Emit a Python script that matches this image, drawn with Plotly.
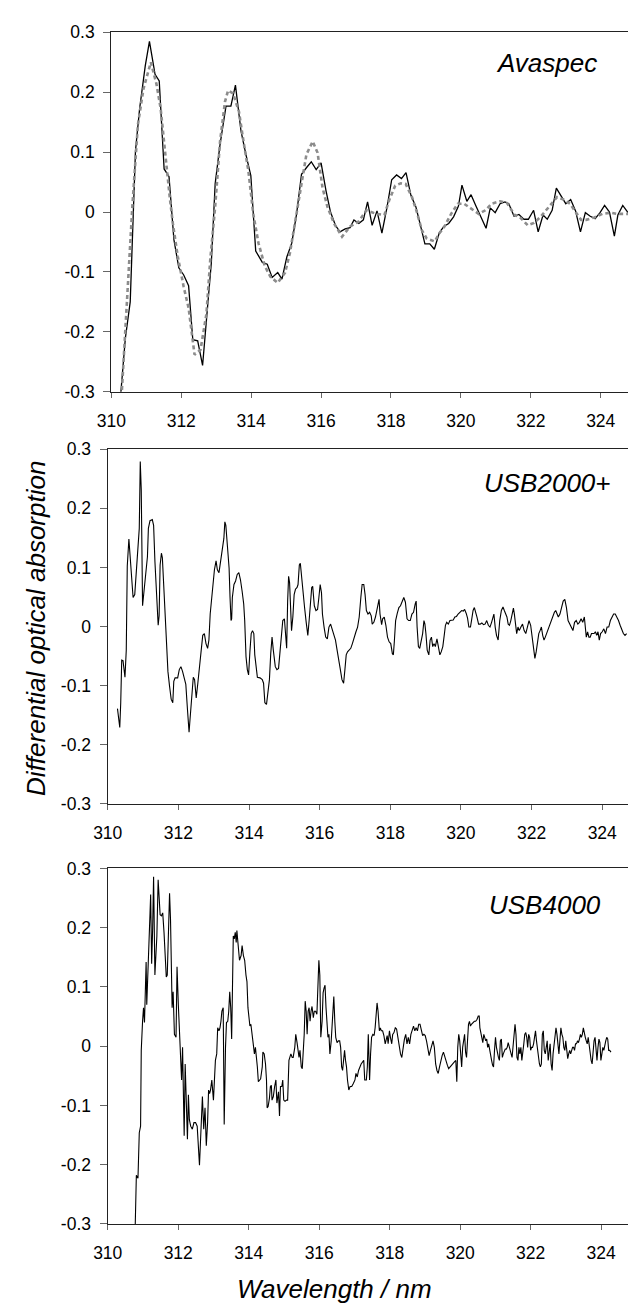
import plotly.graph_objects as go

# ---------------- data ----------------
# Panel 1: Avaspec, measured (solid) and fitted (dotted grey)
ava_wl = [310.26, 310.40, 310.54, 310.69, 310.81, 310.97, 311.09, 311.25, 311.37, 311.51,
          311.65, 311.79, 311.93, 312.07, 312.21, 312.33, 312.47, 312.61, 312.75, 312.86,
          312.97, 313.11, 313.28, 313.42, 313.55, 313.71, 313.85, 313.99, 314.13, 314.32,
          314.46, 314.60, 314.76, 314.88, 315.02, 315.16, 315.30, 315.44, 315.58, 315.72,
          315.86, 316.00, 316.14, 316.27, 316.41, 316.54, 316.69, 316.83, 316.94, 317.08,
          317.21, 317.33, 317.46, 317.60, 317.74, 317.88, 318.02, 318.16, 318.30, 318.43,
          318.57, 318.71, 318.85, 318.97, 319.11, 319.24, 319.38, 319.51, 319.65, 319.79,
          319.93, 320.03, 320.17, 320.29, 320.43, 320.57, 320.72, 320.84, 320.98, 321.12,
          321.26, 321.37, 321.52, 321.66, 321.80, 321.93, 322.08, 322.21, 322.35, 322.47,
          322.61, 322.73, 322.87, 323.00, 323.14, 323.28, 323.42, 323.56, 323.70, 323.84,
          323.98, 324.11, 324.25, 324.39, 324.49, 324.63, 324.78]
ava_meas = [-0.31, -0.211, -0.150, 0.102, 0.173, 0.244, 0.285, 0.230, 0.219, 0.072,
            0.059, -0.046, -0.093, -0.105, -0.123, -0.213, -0.215, -0.256, -0.16, -0.085,
            0.047, 0.113, 0.177, 0.177, 0.212, 0.135, 0.096, 0.061, -0.065, -0.084,
            -0.087, -0.109, -0.101, -0.112, -0.075, -0.052, -0.003, 0.063, 0.074, 0.084,
            0.071, 0.082, 0.036, 0.000, -0.022, -0.033, -0.028, -0.026, -0.013, -0.019,
            -0.013, 0.017, -0.022, 0.002, -0.035, 0.006, 0.054, 0.062, 0.056, 0.066,
            0.028, 0.009, -0.024, -0.053, -0.053, -0.062, -0.035, -0.024, -0.019, -0.008,
            0.010, 0.045, 0.018, 0.029, 0.010, -0.007, -0.027, 0.007, -0.001, 0.014,
            0.017, 0.014, -0.007, -0.004, -0.012, -0.012, 0.003, -0.033, -0.005, -0.012,
            0.003, 0.040, 0.026, 0.014, 0.021, 0.002, -0.033, -0.001, -0.007, -0.011,
            -0.001, 0.011, 0.000, -0.040, -0.005, 0.011, -0.001]

ava_fit_wl = [310.28, 310.42, 310.46, 310.60, 310.76, 310.92, 311.13, 311.29, 311.41, 311.53,
              311.67, 311.76, 311.90, 312.07, 312.21, 312.38, 312.55, 312.72, 312.83, 312.97,
              313.11, 313.25, 313.34, 313.48, 313.65, 313.78, 313.92, 314.06, 314.21, 314.39,
              314.55, 314.76, 314.97, 315.11, 315.25, 315.42, 315.58, 315.76, 315.90, 316.04,
              316.18, 316.37, 316.60, 316.83, 317.07, 317.30, 317.58, 317.81, 317.95, 318.12,
              318.28, 318.42, 318.60, 318.74, 318.88, 319.02, 319.25, 319.39, 319.53, 319.72,
              319.91, 320.09, 320.28, 320.51, 320.70, 320.88, 321.12, 321.32, 321.54, 321.68,
              321.91, 322.09, 322.28, 322.51, 322.75, 322.93, 323.12, 323.26, 323.44, 323.58,
              323.82, 324.05, 324.28, 324.47, 324.78]
ava_fit = [-0.32, -0.178, -0.145, 0.0085, 0.146, 0.206, 0.250, 0.214, 0.173, 0.102,
           0.025, -0.019, -0.074, -0.125, -0.16, -0.238, -0.23, -0.17, -0.079, 0.009,
           0.118, 0.184, 0.203, 0.198, 0.168, 0.118, 0.069, -0.003, -0.052, -0.090,
           -0.108, -0.118, -0.101, -0.068, -0.019, 0.047, 0.096, 0.118, 0.099, 0.041,
           0.009, -0.019, -0.041, -0.024, -0.016, 0.003, -0.003, -0.005, 0.020, 0.044,
           0.048, 0.047, 0.025, 0.000, -0.030, -0.044, -0.049, -0.035, -0.024, -0.003,
           0.014, 0.014, 0.006, -0.003, 0.003, 0.014, 0.018, 0.015, -0.005, -0.008,
           -0.022, -0.018, -0.008, 0.009, 0.025, 0.021, 0.014, 0.002, -0.013, -0.013,
           -0.009, -0.003, -0.001, -0.003, -0.003]

# Panel 2: USB2000+
usb2000_wl = [310.276, 310.341, 310.368, 310.396, 310.433, 310.488, 310.525, 310.553, 310.599, 310.626,
              310.672, 310.718, 310.765, 310.811, 310.857, 310.893, 310.921, 310.949, 310.986, 311.032,
              311.078, 311.124, 311.151, 311.197, 311.262, 311.299, 311.336, 311.382, 311.428, 311.455,
              311.483, 311.520, 311.547, 311.593, 311.630, 311.667, 311.704, 311.750, 311.796, 311.842,
              311.870, 311.907, 311.980, 312.026, 312.072, 312.118, 312.165, 312.211, 312.257, 312.303,
              312.330, 312.376, 312.422, 312.459, 312.505, 312.551, 312.597, 312.644, 312.690, 312.736,
              312.782, 312.828, 312.865, 312.901, 312.948, 312.975, 313.021, 313.067, 313.104, 313.150,
              313.196, 313.252, 313.288, 313.316, 313.344, 313.390, 313.436, 313.463, 313.491, 313.509,
              313.528, 313.574, 313.620, 313.666, 313.712, 313.758, 313.804, 313.850, 313.878, 313.915,
              313.952, 313.988, 314.025, 314.062, 314.099, 314.136, 314.163, 314.200, 314.237, 314.311,
              314.375, 314.412, 314.449, 314.495, 314.541, 314.578, 314.615, 314.652, 314.688, 314.744,
              314.790, 314.836, 314.882, 314.909, 314.956, 315.002, 315.038, 315.066, 315.094, 315.121,
              315.149, 315.177, 315.204, 315.241, 315.278, 315.315, 315.361, 315.388, 315.425, 315.453,
              315.481, 315.527, 315.573, 315.619, 315.665, 315.702, 315.739, 315.775, 315.803, 315.849,
              315.895, 315.941, 315.978, 316.015, 316.052, 316.079, 316.125, 316.171, 316.217, 316.263,
              316.310, 316.356, 316.402, 316.448, 316.494, 316.540, 316.586, 316.632, 316.678, 316.715,
              316.752, 316.789, 316.844, 316.881, 316.927, 316.973, 317.028, 317.074, 317.120, 317.166,
              317.203, 317.249, 317.286, 317.323, 317.368, 317.414, 317.460, 317.488, 317.534, 317.580,
              317.617, 317.654, 317.682, 317.709, 317.755, 317.783, 317.829, 317.875, 317.921, 317.967,
              318.013, 318.059, 318.087, 318.114, 318.151, 318.197, 318.243, 318.289, 318.336, 318.382,
              318.428, 318.474, 318.520, 318.566, 318.612, 318.658, 318.704, 318.732, 318.759, 318.796,
              318.833, 318.870, 318.916, 318.953, 318.980, 319.008, 319.045, 319.091, 319.128, 319.165,
              319.201, 319.238, 319.275, 319.321, 319.367, 319.404, 319.441, 319.487, 319.533, 319.561,
              319.597, 319.643, 319.689, 319.736, 319.782, 319.828, 319.874, 319.920, 319.975, 320.021,
              320.067, 320.104, 320.150, 320.187, 320.224, 320.270, 320.307, 320.344, 320.380, 320.408,
              320.454, 320.500, 320.546, 320.592, 320.638, 320.684, 320.730, 320.776, 320.822, 320.868,
              320.896, 320.933, 320.970, 321.007, 321.053, 321.099, 321.145, 321.191, 321.228, 321.265,
              321.302, 321.338, 321.375, 321.412, 321.449, 321.486, 321.513, 321.541, 321.578, 321.615,
              321.652, 321.698, 321.744, 321.790, 321.836, 321.882, 321.928, 321.974, 322.001, 322.038,
              322.066, 322.094, 322.130, 322.167, 322.204, 322.241, 322.278, 322.315, 322.352, 322.388,
              322.425, 322.462, 322.499, 322.536, 322.573, 322.609, 322.646, 322.683, 322.720, 322.757,
              322.803, 322.849, 322.895, 322.941, 322.987, 323.033, 323.079, 323.125, 323.171, 323.217,
              323.264, 323.310, 323.356, 323.402, 323.448, 323.494, 323.521, 323.549, 323.586, 323.623,
              323.659, 323.696, 323.733, 323.770, 323.807, 323.844, 323.880, 323.917, 323.954, 324.000,
              324.046, 324.092, 324.138, 324.185, 324.231, 324.277, 324.323, 324.369, 324.415, 324.461,
              324.507, 324.553, 324.599, 324.645, 324.691]
usb2000_doa = [-0.139, -0.171, -0.129, -0.057, -0.058, -0.086, -0.040, 0.102, 0.148, 0.121,
               0.088, 0.049, 0.054, 0.091, 0.127, 0.166, 0.279, 0.232, 0.035, 0.066,
               0.088, 0.118, 0.166, 0.179, 0.181, 0.171, 0.110, 0.054, 0.002, 0.018,
               0.104, 0.124, 0.116, 0.060, 0.016, -0.029, -0.076, -0.101, -0.123, -0.129,
               -0.093, -0.087, -0.087, -0.073, -0.068, -0.076, -0.087, -0.098, -0.140, -0.179,
               -0.157, -0.118, -0.086, -0.090, -0.121, -0.096, -0.068, -0.040, -0.015, -0.012,
               -0.029, -0.037, -0.023, 0.021, 0.049, 0.077, 0.096, 0.111, 0.096, 0.091,
               0.110, 0.132, 0.149, 0.177, 0.171, 0.135, 0.099, 0.049, 0.010, 0.013,
               0.049, 0.071, 0.077, 0.088, 0.091, 0.079, 0.060, 0.038, 0.010, -0.051,
               -0.073, -0.082, -0.043, -0.012, -0.007, -0.012, -0.048, -0.068, -0.086, -0.087,
               -0.090, -0.096, -0.129, -0.132, -0.112, -0.090, -0.046, -0.018, -0.040, -0.068,
               -0.073, -0.071, -0.040, -0.018, 0.010, 0.013, -0.018, -0.037, 0.043, 0.085,
               0.074, 0.027, -0.007, 0.016, 0.054, 0.063, 0.066, 0.071, 0.104, 0.107,
               0.088, 0.049, 0.032, 0.007, -0.015, 0.010, 0.043, 0.066, 0.068, 0.035,
               0.027, 0.029, 0.049, 0.071, 0.057, 0.021, -0.001, -0.018, -0.021, -0.001,
               0.004, -0.004, -0.012, -0.023, -0.040, -0.054, -0.073, -0.090, -0.096, -0.073,
               -0.048, -0.043, -0.040, -0.037, -0.029, -0.018, -0.009, -0.001, 0.016, 0.049,
               0.071, 0.071, 0.054, 0.027, 0.021, 0.024, 0.018, 0.004, 0.007, 0.016,
               0.027, 0.041, 0.046, 0.021, 0.003, 0.013, 0.016, 0.002, -0.018, -0.026,
               -0.029, -0.046, -0.048, -0.026, 0.010, 0.022, 0.032, 0.035, 0.041, 0.049,
               0.041, 0.013, 0.010, 0.010, 0.021, 0.024, 0.038, 0.043, -0.001, -0.034,
               -0.037, -0.026, -0.012, 0.010, 0.004, -0.012, -0.040, -0.048, -0.023, -0.018,
               -0.034, -0.029, -0.034, -0.021, -0.040, -0.048, -0.043, -0.034, -0.012, 0.002,
               0.007, 0.004, 0.010, 0.010, 0.011, 0.016, 0.017, 0.021, 0.024, 0.027,
               0.026, 0.029, 0.022, 0.014, -0.001, -0.001, 0.013, 0.027, 0.032, 0.027,
               0.016, 0.004, 0.004, 0.006, 0.003, 0.004, 0.010, 0.002, -0.001, 0.007,
               0.016, 0.021, -0.001, -0.015, -0.023, 0.010, 0.027, 0.033, 0.027, 0.021,
               0.016, 0.004, 0.002, 0.010, 0.024, 0.031, 0.021, 0.004, -0.012, -0.001,
               -0.007, -0.001, 0.004, -0.007, -0.012, -0.001, 0.010, 0.002, -0.012, -0.029,
               -0.040, -0.054, -0.043, -0.029, -0.012, -0.007, -0.001, -0.015, -0.023, -0.018,
               -0.012, -0.004, 0.000, 0.006, 0.013, 0.021, 0.024, 0.027, 0.021, 0.016,
               0.021, 0.035, 0.043, 0.046, 0.032, 0.010, 0.004, -0.001, -0.007, 0.007,
               0.010, 0.004, 0.007, 0.013, 0.007, 0.016, -0.001, -0.018, -0.009, -0.018,
               -0.018, -0.012, -0.012, -0.012, -0.009, -0.015, -0.009, -0.023, -0.012, -0.009,
               -0.004, -0.012, -0.001, -0.001, 0.010, 0.016, 0.021, 0.021, 0.016, 0.010,
               0.002, -0.007, -0.012, -0.015, -0.012]

# Panel 3: USB4000
usb4000_wl = [310.770, 310.784, 310.812, 310.858, 310.895, 310.932, 310.951, 310.988, 311.015, 311.043,
              311.061, 311.089, 311.107, 311.135, 311.172, 311.200, 311.218, 311.246, 311.274, 311.301,
              311.338, 311.366, 311.394, 311.430, 311.458, 311.486, 311.523, 311.560, 311.597, 311.634,
              311.661, 311.689, 311.726, 311.754, 311.781, 311.800, 311.827, 311.855, 311.892, 311.938,
              311.966, 312.003, 312.040, 312.058, 312.095, 312.123, 312.150, 312.169, 312.197, 312.224,
              312.261, 312.289, 312.316, 312.353, 312.400, 312.446, 312.492, 312.538, 312.566, 312.603,
              312.630, 312.658, 312.686, 312.723, 312.760, 312.796, 312.833, 312.861, 312.889, 312.916,
              312.953, 312.999, 313.027, 313.055, 313.092, 313.119, 313.156, 313.184, 313.212, 313.239,
              313.276, 313.304, 313.341, 313.369, 313.405, 313.433, 313.461, 313.489, 313.516, 313.535,
              313.562, 313.590, 313.618, 313.645, 313.664, 313.701, 313.738, 313.784, 313.812, 313.849,
              313.885, 313.922, 313.950, 313.978, 314.015, 314.033, 314.061, 314.107, 314.135, 314.162,
              314.190, 314.218, 314.245, 314.273, 314.310, 314.338, 314.384, 314.402, 314.439, 314.476,
              314.504, 314.522, 314.550, 314.587, 314.615, 314.642, 314.661, 314.698, 314.735, 314.771,
              314.799, 314.845, 314.873, 314.901, 314.938, 314.965, 314.993, 315.030, 315.076, 315.104,
              315.141, 315.168, 315.196, 315.233, 315.261, 315.307, 315.334, 315.371, 315.399, 315.427,
              315.454, 315.491, 315.519, 315.547, 315.574, 315.602, 315.630, 315.657, 315.685, 315.713,
              315.740, 315.768, 315.796, 315.833, 315.860, 315.897, 315.934, 315.971, 315.990, 316.017,
              316.045, 316.082, 316.110, 316.137, 316.165, 316.193, 316.220, 316.248, 316.276, 316.303,
              316.340, 316.377, 316.414, 316.442, 316.469, 316.506, 316.543, 316.580, 316.608, 316.636,
              316.663, 316.691, 316.719, 316.746, 316.774, 316.802, 316.839, 316.876, 316.922, 316.968,
              317.014, 317.042, 317.079, 317.116, 317.153, 317.189, 317.263, 317.291, 317.337, 317.365,
              317.392, 317.429, 317.457, 317.485, 317.521, 317.558, 317.586, 317.614, 317.641, 317.669,
              317.706, 317.734, 317.761, 317.798, 317.835, 317.872, 317.900, 317.928, 317.955, 317.992,
              318.020, 318.057, 318.084, 318.121, 318.158, 318.195, 318.232, 318.269, 318.306, 318.343,
              318.380, 318.417, 318.454, 318.490, 318.527, 318.564, 318.601, 318.638, 318.675, 318.712,
              318.749, 318.786, 318.823, 318.860, 318.897, 318.934, 318.970, 319.007, 319.044, 319.081,
              319.118, 319.155, 319.192, 319.229, 319.266, 319.303, 319.340, 319.376, 319.413, 319.450,
              319.487, 319.524, 319.561, 319.598, 319.635, 319.672, 319.709, 319.746, 319.783, 319.829,
              319.875, 319.903, 319.930, 319.958, 319.986, 320.013, 320.041, 320.069, 320.096, 320.124,
              320.152, 320.179, 320.207, 320.235, 320.262, 320.290, 320.318, 320.355, 320.401, 320.438,
              320.475, 320.512, 320.539, 320.558, 320.585, 320.613, 320.641, 320.669, 320.696, 320.724,
              320.752, 320.779, 320.807, 320.835, 320.862, 320.890, 320.918, 320.945, 320.973, 321.001,
              321.028, 321.056, 321.084, 321.112, 321.139, 321.167, 321.195, 321.222, 321.250, 321.278,
              321.305, 321.333, 321.361, 321.388, 321.416, 321.444, 321.471, 321.499, 321.527, 321.555,
              321.582, 321.610, 321.638, 321.665, 321.693, 321.721, 321.748, 321.776, 321.804, 321.831,
              321.859, 321.887, 321.914, 321.942, 321.970, 321.998, 322.025, 322.053, 322.081, 322.108,
              322.136, 322.164, 322.191, 322.219, 322.247, 322.274, 322.302, 322.330, 322.357, 322.385,
              322.413, 322.440, 322.468, 322.496, 322.524, 322.551, 322.579, 322.607, 322.634, 322.662,
              322.690, 322.717, 322.745, 322.773, 322.800, 322.828, 322.856, 322.884, 322.911, 322.939,
              322.967, 322.994, 323.022, 323.050, 323.077, 323.105, 323.133, 323.160, 323.188, 323.216,
              323.243, 323.271, 323.299, 323.327, 323.354, 323.382, 323.410, 323.437, 323.465, 323.493,
              323.520, 323.548, 323.576, 323.603, 323.631, 323.659, 323.686, 323.714, 323.742, 323.769,
              323.797, 323.825, 323.853, 323.880, 323.908, 323.936, 323.963, 323.991, 324.019, 324.046,
              324.074, 324.102, 324.129, 324.157, 324.185, 324.212, 324.240, 324.277]
usb4000_doa = [-0.330, -0.257, -0.218, -0.223, -0.146, -0.135, -0.007, 0.042, 0.065, 0.040,
               0.114, 0.142, 0.070, 0.109, 0.186, 0.225, 0.256, 0.139, 0.198, 0.286,
               0.120, 0.159, 0.186, 0.281, 0.253, 0.222, 0.220, 0.225, 0.192, 0.153,
               0.117, 0.120, 0.214, 0.258, 0.214, 0.120, 0.065, 0.092, 0.020, 0.015,
               0.134, 0.070, 0.020, -0.024, -0.057, -0.002, -0.124, -0.151, -0.030, -0.107,
               -0.157, -0.082, -0.124, -0.135, -0.140, -0.129, -0.129, -0.135, -0.157, -0.201,
               -0.163, -0.124, -0.085, -0.140, -0.104, -0.168, -0.129, -0.074, -0.080, -0.074,
               -0.057, -0.091, -0.052, -0.024, -0.013, 0.031, 0.026, 0.031, 0.042, 0.059,
               0.065, -0.132, -0.002, 0.040, 0.042, 0.059, 0.092, 0.065, 0.012, 0.131,
               0.186, 0.181, 0.192, 0.175, 0.195, 0.170, 0.145, 0.153, 0.170, 0.153,
               0.145, 0.120, 0.109, 0.065, 0.042, 0.034, 0.037, 0.015, 0.004, -0.013,
               -0.002, -0.016, -0.035, -0.060, -0.057, -0.055, -0.035, -0.010, -0.013, -0.030,
               -0.057, -0.104, -0.102, -0.088, -0.068, -0.066, -0.091, -0.085, -0.068, -0.057,
               -0.096, -0.077, -0.118, -0.068, -0.068, -0.057, -0.091, -0.093, -0.091, -0.091,
               -0.024, -0.016, -0.013, -0.019, -0.019, -0.002, 0.020, 0.006, -0.013, -0.019,
               -0.007, -0.035, -0.038, -0.013, 0.020, 0.076, 0.059, 0.020, 0.059, 0.065,
               0.042, 0.059, 0.067, 0.048, 0.059, 0.059, 0.054, 0.114, 0.145, 0.120,
               0.015, 0.042, 0.090, 0.098, 0.103, 0.065, 0.031, 0.015, 0.020, -0.013,
               0.009, 0.042, 0.084, 0.042, 0.015, 0.006, 0.009, 0.009, -0.002, -0.035,
               -0.041, -0.024, -0.007, -0.024, -0.035, -0.057, -0.074, -0.068, -0.068, -0.063,
               -0.057, -0.046, -0.052, -0.041, -0.035, -0.030, -0.024, -0.057, -0.057, -0.035,
               0.020, -0.057, -0.013, 0.015, 0.020, 0.018, 0.031, 0.054, 0.073, 0.059,
               0.026, 0.031, 0.026, 0.026, 0.018, 0.004, 0.015, 0.018, 0.004, 0.026,
               0.015, 0.004, 0.020, 0.023, 0.031, 0.029, 0.015, -0.002, -0.013, -0.019,
               -0.002, 0.012, 0.020, 0.004, 0.015, 0.004, 0.020, 0.026, 0.034, 0.026,
               0.031, 0.026, 0.037, 0.037, 0.026, 0.018, 0.020, 0.018, 0.009, -0.005,
               -0.016, -0.007, 0.004, 0.009, -0.002, -0.030, -0.041, -0.046, -0.035, -0.024,
               -0.016, -0.010, -0.019, -0.024, -0.032, -0.038, -0.035, -0.032, -0.030, -0.027,
               -0.024, -0.060, -0.002, 0.020, 0.009, -0.007, -0.035, -0.002, 0.015, 0.020,
               -0.010, -0.019, 0.009, 0.037, 0.042, 0.034, 0.037, 0.040, 0.042, 0.042,
               0.045, 0.051, 0.051, 0.031, 0.020, 0.015, 0.006, 0.020, 0.015, 0.009,
               0.012, -0.002, 0.004, -0.007, -0.019, -0.024, -0.032, -0.035, -0.007, 0.015,
               -0.002, -0.013, -0.019, -0.024, 0.009, 0.012, -0.019, -0.013, -0.007, -0.005,
               -0.005, -0.002, 0.006, -0.002, -0.007, -0.013, -0.019, -0.002, 0.020, 0.037,
               0.020, -0.019, -0.024, -0.002, -0.013, -0.002, -0.024, -0.013, 0.004, 0.020,
               0.023, 0.015, -0.002, 0.020, 0.015, -0.007, -0.002, -0.002, 0.004, 0.015,
               0.026, 0.009, -0.007, -0.019, -0.030, -0.035, -0.030, 0.020, 0.026, -0.007,
               -0.013, -0.002, 0.009, -0.024, -0.007, 0.004, -0.030, -0.041, -0.013, 0.004,
               0.020, 0.031, 0.020, -0.002, -0.013, 0.009, 0.031, 0.020, 0.015, -0.002,
               -0.007, 0.009, -0.013, -0.021, -0.013, -0.007, -0.013, -0.007, -0.002, -0.002,
               -0.007, 0.004, 0.004, 0.009, 0.006, 0.012, 0.020, 0.015, 0.020, 0.031,
               0.020, 0.015, 0.009, 0.004, 0.015, -0.002, -0.013, -0.024, -0.030, -0.007,
               0.009, 0.015, -0.013, -0.024, -0.002, 0.012, 0.006, -0.024, -0.013, -0.002,
               -0.007, 0.004, 0.009, 0.015, 0.012, -0.007, -0.007, -0.010]

assert len(ava_wl) == len(ava_meas)
assert len(ava_fit_wl) == len(ava_fit)
assert len(usb2000_wl) == len(usb2000_doa)
assert len(usb4000_wl) == len(usb4000_doa)

panel_names = ["Avaspec", "USB2000+", "USB4000"]
x_ticks = [310, 312, 314, 316, 318, 320, 322, 324]
y_ticks = [-0.3, -0.2, -0.1, 0, 0.1, 0.2, 0.3]
y_ticktext = ["-0.3", "-0.2", "-0.1", "0", "0.1", "0.2", "0.3"]
x_title = "Wavelength / nm"
y_title = "Differential optical absorption"

# ---------------- figure ----------------
W, H = 628, 1314
FONT = "Liberation Sans, Arial, Helvetica, sans-serif"

fig = go.Figure()
fig.add_trace(go.Scatter(x=ava_wl, y=ava_meas, mode="lines", xaxis="x", yaxis="y",
                         line=dict(color="#000000", width=1.3), showlegend=False))
fig.add_trace(go.Scatter(x=ava_fit_wl, y=ava_fit, mode="lines", xaxis="x", yaxis="y",
                         line=dict(color="#8c8c8c", width=2.6, dash="4px,3px"), showlegend=False))
fig.add_trace(go.Scatter(x=usb2000_wl, y=usb2000_doa, mode="lines", xaxis="x2", yaxis="y2",
                         line=dict(color="#000000", width=1.1), showlegend=False))
fig.add_trace(go.Scatter(x=usb4000_wl, y=usb4000_doa, mode="lines", xaxis="x3", yaxis="y3",
                         line=dict(color="#000000", width=1.1), showlegend=False))

tickfont = dict(family=FONT, size=17.5, color="#000000")

def xax(domain, rng, anchor):
    return dict(domain=domain, range=rng, anchor=anchor, tickvals=x_ticks,
                ticks="outside", ticklen=5, tickwidth=1.2, tickcolor="#666666",
                showline=True, linecolor="#222222", linewidth=1.4, mirror=True,
                showgrid=False, zeroline=False, tickfont=tickfont,
                ticklabelstandoff=8)

def yax(domain, anchor):
    return dict(domain=domain, range=[-0.3, 0.3], anchor=anchor, tickvals=y_ticks,
                ticktext=y_ticktext, ticks="outside", ticklen=7, tickwidth=1.2,
                tickcolor="#666666", showline=True, linecolor="#222222", linewidth=1.4,
                showgrid=False, zeroline=False, tickfont=tickfont, ticklabelstandoff=5)

def ydom(top_px, bot_px):
    return [1 - bot_px / H, 1 - top_px / H]

fig.update_layout(
    width=W, height=H,
    margin=dict(l=0, r=0, t=0, b=0),
    paper_bgcolor="white", plot_bgcolor="white",
    xaxis=xax([98.7 / W, 1], [310, 324.78], "y"),
    xaxis2=xax([95 / W, 1], [310, 324.73], "y2"),
    xaxis3=xax([95 / W, 1], [310, 324.76], "y3"),
    yaxis=yax(ydom(22.7, 387.7), "x"),
    yaxis2=yax(ydom(446, 806), "x2"),
    yaxis3=yax(ydom(871.7, 1232.7), "x3"),
)

bigfont = dict(family=FONT, size=26, color="#000000", style="italic")
label_pos = [("x", "y", 323.95, 0.2485), ("x2", "y2", 324.29, 0.2433), ("x3", "y3", 324.04, 0.238)]
for name, (xr, yr, xv, yv) in zip(panel_names, label_pos):
    fig.add_annotation(text=name, xref=xr, yref=yr, x=xv, y=yv, xanchor="right",
                       yanchor="middle", showarrow=False, font=bigfont)

fig.add_annotation(text=y_title, xref="paper", yref="paper", x=22 / W, y=1 - 628 / H,
                   textangle=-90, xanchor="center", yanchor="middle", showarrow=False,
                   font=bigfont)
fig.add_annotation(text=x_title, xref="paper", yref="paper", x=327 / W, y=1 - 1299 / H,
                   xanchor="center", yanchor="middle", showarrow=False, font=bigfont)

# remove the default page margin so the 628x1314 figure fills the window exactly
page_fix = ("document.body.style.margin='0';document.body.style.padding='0';"
            "document.documentElement.style.overflow='hidden';")
fig.write_html("out.html", post_script=page_fix, config={"displayModeBar": False})
